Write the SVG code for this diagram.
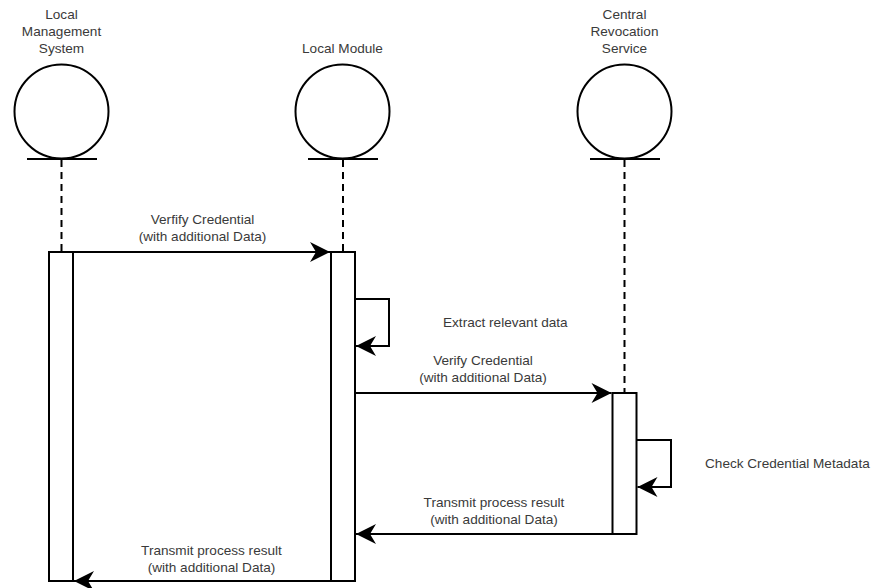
<svg xmlns="http://www.w3.org/2000/svg" width="875" height="588" viewBox="0 0 875 588">
<defs>
<style>
.t{font-family:"Liberation Sans",Arial,Helvetica,sans-serif;font-size:13.6px;fill:#3a3a3a;text-anchor:middle}
.ts{text-anchor:start}
.ln{fill:none;stroke:#000;stroke-width:2}
.dash{fill:none;stroke:#000;stroke-width:2;stroke-dasharray:7 5}
.box{fill:#fff;stroke:#000;stroke-width:2}
</style>
<marker id="ah" markerUnits="userSpaceOnUse" markerWidth="22" markerHeight="22" viewBox="-21 -11 22 22" refX="0" refY="0" orient="auto">
<path d="M0,0 L-20,-10 L-14,0 L-20,10 Z" fill="#000"/>
</marker>
</defs>
<rect width="875" height="588" fill="#fff"/>

<g id="actor-lms">
<text class="t" x="61.5" y="19">Local</text>
<text class="t" x="61.5" y="36">Management</text>
<text class="t" x="61.5" y="53">System</text>
<circle class="ln" cx="61.5" cy="111.5" r="47"/>
<line class="ln" x1="27" y1="159" x2="97" y2="159"/>
<line class="dash" x1="61.5" y1="160" x2="61.5" y2="252"/>
</g>

<g id="actor-lm">
<text class="t" x="342.5" y="53">Local Module</text>
<circle class="ln" cx="342.5" cy="111.5" r="47"/>
<line class="ln" x1="308" y1="159" x2="378" y2="159"/>
<line class="dash" x1="343" y1="160" x2="343" y2="252"/>
</g>

<g id="actor-crs">
<text class="t" x="624.5" y="19">Central</text>
<text class="t" x="624.5" y="36">Revocation</text>
<text class="t" x="624.5" y="53">Service</text>
<circle class="ln" cx="624.5" cy="111.5" r="47"/>
<line class="ln" x1="590" y1="159" x2="660" y2="159"/>
<line class="dash" x1="624.5" y1="160" x2="624.5" y2="393"/>
</g>

<g id="activation-lms">
<rect class="box" x="49" y="252" width="24" height="329"/>
</g>
<g id="activation-lm">
<rect class="box" x="331" y="252" width="24" height="329"/>
</g>
<g id="activation-crs">
<rect class="box" x="612.5" y="393" width="24" height="141"/>
</g>

<g id="connectors">
<line class="ln" x1="73" y1="252" x2="330" y2="252" marker-end="url(#ah)"/>
<polyline class="ln" points="355,299 389,299 389,346 356,346" marker-end="url(#ah)"/>
<line class="ln" x1="355" y1="393" x2="611.5" y2="393" marker-end="url(#ah)"/>
<polyline class="ln" points="636.5,440 671,440 671,487 637.5,487" marker-end="url(#ah)"/>
<line class="ln" x1="612.5" y1="534" x2="356" y2="534" marker-end="url(#ah)"/>
<line class="ln" x1="331" y1="581" x2="74" y2="581" marker-end="url(#ah)"/>
</g>

<g id="labels">
<text class="t" x="202.5" y="224">Verfify Credential</text>
<text class="t" x="202.5" y="241">(with additional Data)</text>
<text class="t ts" x="443" y="327">Extract relevant data</text>
<text class="t" x="483" y="365">Verify Credential</text>
<text class="t" x="483" y="382">(with additional Data)</text>
<text class="t ts" x="705" y="468">Check Credential Metadata</text>
<text class="t" x="494" y="507">Transmit process result</text>
<text class="t" x="494" y="524">(with additional Data)</text>
<text class="t" x="211.5" y="555">Transmit process result</text>
<text class="t" x="211.5" y="572">(with additional Data)</text>
</g>
</svg>
